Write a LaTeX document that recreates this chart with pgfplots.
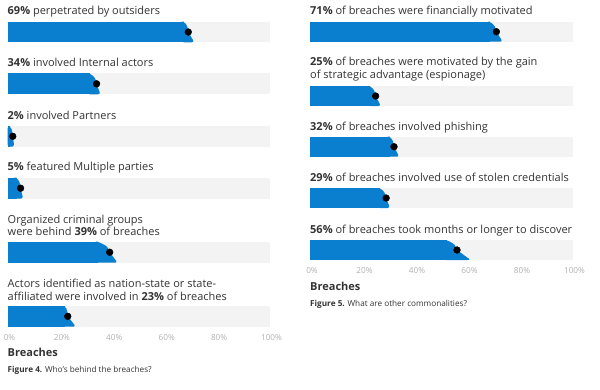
\documentclass[border=0pt]{standalone}
\usepackage{pgfplots}
\pgfplotsset{compat=1.18}
\usepackage{fontspec}
\setmainfont{Open Sans}
\definecolor{barblue}{HTML}{0A7ECF}
\definecolor{band}{HTML}{F3F3F3}
\definecolor{txt}{HTML}{333333}
\definecolor{tick}{HTML}{B0B0B0}
\newcommand{\lbl}{\fontsize{11bp}{13bp}\selectfont\color{txt}}
\newcommand{\figcap}{\fontsize{8.2bp}{9.5bp}\selectfont\color{txt}}
\pgfplotsset{
  panel/.style={
    scale only axis, clip=false,
    xmin=0, xmax=100, ymin=0, y dir=reverse,
    axis line style={draw=none}, major tick length=0pt,
    ytick=\empty, xtick={0,20,40,60,80,100},
    xticklabels={0\%,20\%,40\%,60\%,80\%,100\%},
    /pgf/number format/assume math mode=true,
    xticklabel style={anchor=center, inner sep=0pt, xshift=2bp, font=\fontsize{8.2bp}{9bp}\selectfont, text=tick},
  },
  bandst/.style={fill=band, draw=none, mark=none},
  barst/.style={fill=barblue, draw=none, mark=none},
  tailst/.style={fill=barblue, draw=none, mark=none, rounded corners=2.5bp},
  dotst/.style={only marks, mark=*, mark size=3.4bp, black, mark options={fill=black, draw=none}},
}
\begin{document}
\begin{tikzpicture}[x=1bp,y=-1bp]
\path[use as bounding box] (0,0) rectangle (600,389);
% ---------------- Figure 4 ----------------
\begin{axis}[panel, at={(7.5bp,0bp)}, anchor=north west, width=262bp, height=338bp, ymax=338]
% bands
\addplot[bandst] coordinates {(0,21.7)(100,21.7)(100,42.3)(0,42.3)} --cycle;
\addplot[bandst] coordinates {(0,73.3)(100,73.3)(100,94.3)(0,94.3)} --cycle;
\addplot[bandst] coordinates {(0,126)(100,126)(100,146.7)(0,146.7)} --cycle;
\addplot[bandst] coordinates {(0,177.7)(100,177.7)(100,198.7)(0,198.7)} --cycle;
\addplot[bandst] coordinates {(0,241.7)(100,241.7)(100,262.7)(0,262.7)} --cycle;
\addplot[bandst] coordinates {(0,306)(100,306)(100,326.7)(0,326.7)} --cycle;
% bars
\addplot[barst] coordinates {(0,21.7)(67.4,21.7)(67.4,42.3)(0,42.3)} --cycle;
\addplot[tailst] coordinates {(66.4,21.7)(67.4,21.7)(68.7,26.2)(69,32)(71.3,42.3)(66.4,42.3)} --cycle;
\addplot[barst] coordinates {(0,73.3)(31.4,73.3)(31.4,94.3)(0,94.3)} --cycle;
\addplot[tailst] coordinates {(30.4,73.3)(31.4,73.3)(33.5,77.9)(34,83.8)(35.5,94.3)(30.4,94.3)} --cycle;
\addplot[barst] coordinates {(0,126)(1,126)(1,146.7)(0,146.7)} --cycle;
\addplot[tailst] coordinates {(0,126)(1,126)(1.8,130.5)(2,136.3)(2.6,146.7)(0,146.7)} --cycle;
\addplot[barst] coordinates {(0,177.7)(3.5,177.7)(3.5,198.7)(0,198.7)} --cycle;
\addplot[tailst] coordinates {(2.5,177.7)(3.5,177.7)(4.7,182.3)(5,188.2)(6,198.7)(2.5,198.7)} --cycle;
\addplot[barst] coordinates {(0,241.7)(34.6,241.7)(34.6,262.7)(0,262.7)} --cycle;
\addplot[tailst] coordinates {(33.6,241.7)(34.6,241.7)(38.1,246.3)(39,252.2)(42,262.7)(33.6,262.7)} --cycle;
\addplot[barst] coordinates {(0,306)(22,306)(22,326.7)(0,326.7)} --cycle;
\addplot[tailst] coordinates {(21,306)(22,306)(22.8,310.5)(23,316.3)(26.1,326.7)(21,326.7)} --cycle;
% dots
\addplot[dotst] coordinates {(69,32)(34,83.8)(2,136.3)(5,188.2)(39,252.2)(23,316.3)};
% labels
\node[anchor=base west, inner sep=0pt] at (axis cs:0,14.3) {\lbl\textbf{69\%} perpetrated by outsiders};
\node[anchor=base west, inner sep=0pt] at (axis cs:0,66.7) {\lbl\textbf{34\%} involved Internal actors};
\node[anchor=base west, inner sep=0pt] at (axis cs:0,119) {\lbl\textbf{2\%} involved Partners};
\node[anchor=base west, inner sep=0pt] at (axis cs:0,170.7) {\lbl\textbf{5\%} featured Multiple parties};
\node[anchor=base west, inner sep=0pt] at (axis cs:0,223.3) {\lbl Organized criminal groups};
\node[anchor=base west, inner sep=0pt] at (axis cs:0,235.7) {\lbl were behind \textbf{39\%} of breaches};
\node[anchor=base west, inner sep=0pt] at (axis cs:0,287.3) {\lbl Actors identified as nation-state or state-};
\node[anchor=base west, inner sep=0pt] at (axis cs:0,300) {\lbl affiliated were involved in \textbf{23\%} of breaches};
\node[anchor=west, inner sep=0pt] at (axis cs:0,352.7) {\lbl\textbf{Breaches}};
\node[anchor=west, inner sep=0pt] at (axis cs:0,370.7) {\figcap\textbf{Figure 4.} Who's behind the breaches?};
\end{axis}
% ---------------- Figure 5 ----------------
\begin{axis}[panel, at={(310bp,0bp)}, anchor=north west, width=262.5bp, height=271bp, ymax=271]
\addplot[bandst] coordinates {(0,21.7)(100,21.7)(100,41.7)(0,41.7)} --cycle;
\addplot[bandst] coordinates {(0,86)(100,86)(100,106)(0,106)} --cycle;
\addplot[bandst] coordinates {(0,136.7)(100,136.7)(100,156.7)(0,156.7)} --cycle;
\addplot[bandst] coordinates {(0,188)(100,188)(100,208)(0,208)} --cycle;
\addplot[bandst] coordinates {(0,240)(100,240)(100,260)(0,260)} --cycle;
\addplot[barst] coordinates {(0,21.7)(68.6,21.7)(68.6,41.7)(0,41.7)} --cycle;
\addplot[tailst] coordinates {(67.6,21.7)(68.6,21.7)(70.5,26.1)(71,31.7)(73.4,41.7)(67.6,41.7)} --cycle;
\addplot[barst] coordinates {(0,86)(22.9,86)(22.9,106)(0,106)} --cycle;
\addplot[tailst] coordinates {(21.9,86)(22.9,86)(24.6,90.4)(25,96)(27,106)(21.9,106)} --cycle;
\addplot[barst] coordinates {(0,136.7)(30.5,136.7)(30.5,156.7)(0,156.7)} --cycle;
\addplot[tailst] coordinates {(29.5,136.7)(30.5,136.7)(31.7,141.1)(32,146.7)(34,156.7)(29.5,156.7)} --cycle;
\addplot[barst] coordinates {(0,188)(26.7,188)(26.7,208)(0,208)} --cycle;
\addplot[tailst] coordinates {(25.7,188)(26.7,188)(28.5,192.4)(29,198)(30.5,208)(25.7,208)} --cycle;
\addplot[barst] coordinates {(0,240)(52,240)(52,260)(0,260)} --cycle;
\addplot[tailst] coordinates {(51,240)(52,240)(55.2,244.4)(56,250)(61.2,260)(51,260)} --cycle;
\addplot[dotst] coordinates {(71,31.7)(25,96)(32,146.7)(29,198)(56,250)};
\node[anchor=base west, inner sep=0pt] at (axis cs:0,14.3) {\lbl\textbf{71\%} of breaches were financially motivated};
\node[anchor=base west, inner sep=0pt] at (axis cs:0,65.7) {\lbl\textbf{25\%} of breaches were motivated by the gain};
\node[anchor=base west, inner sep=0pt] at (axis cs:0,78.3) {\lbl of strategic advantage (espionage)};
\node[anchor=base west, inner sep=0pt] at (axis cs:0,130) {\lbl\textbf{32\%} of breaches involved phishing};
\node[anchor=base west, inner sep=0pt] at (axis cs:0,181.7) {\lbl\textbf{29\%} of breaches involved use of stolen credentials};
\node[anchor=base west, inner sep=0pt] at (axis cs:0,233.3) {\lbl\textbf{56\%} of breaches took months or longer to discover};
\node[anchor=west, inner sep=0pt] at (axis cs:0,286) {\lbl\textbf{Breaches}};
\node[anchor=west, inner sep=0pt] at (axis cs:0,304) {\figcap\textbf{Figure 5.} What are other commonalities?};
\end{axis}
\end{tikzpicture}
\end{document}
